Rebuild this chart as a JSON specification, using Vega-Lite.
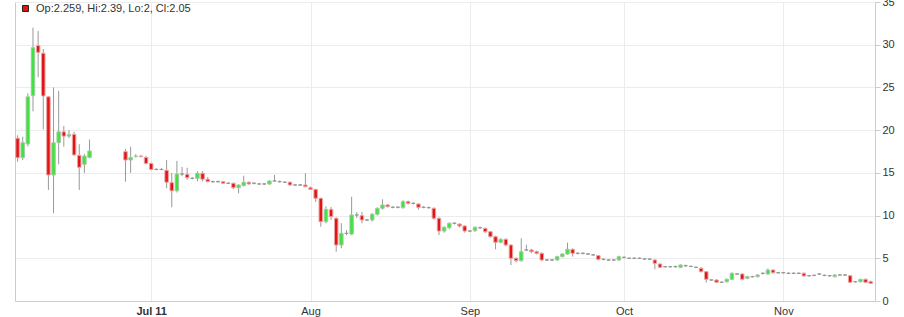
{
  "$schema": "https://vega.github.io/schema/vega-lite/v6.json",
  "width": 860,
  "height": 299,
  "autosize": {"type": "none"},
  "padding": {"left": 15, "top": 2, "right": 29, "bottom": 16},
  "background": "white",
  "config": {
    "view": {"stroke": null},
    "font": "Liberation Sans",
    "axis": {"labelFont": "Liberation Sans", "labelFontSize": 11, "labelColor": "#333", "gridColor": "#ececec", "domainColor": "#ccc", "tickColor": "#ccc"}
  },
  "data": {"values": [
    {"d":"2011-06-05","o":19.05,"h":19.4,"l":16.3,"c":16.77},
    {"d":"2011-06-06","o":16.77,"h":19.23,"l":16.5,"c":18.53},
    {"d":"2011-06-07","o":18.38,"h":24.3,"l":18.1,"c":23.9},
    {"d":"2011-06-08","o":24.03,"h":32.0,"l":22.2,"c":29.65},
    {"d":"2011-06-09","o":29.9,"h":31.6,"l":26.2,"c":29.1},
    {"d":"2011-06-10","o":29.0,"h":29.5,"l":20.1,"c":24.0},
    {"d":"2011-06-11","o":23.9,"h":24.0,"l":13.0,"c":14.75},
    {"d":"2011-06-12","o":14.75,"h":25.0,"l":10.27,"c":18.53},
    {"d":"2011-06-13","o":18.53,"h":24.6,"l":16.0,"c":19.8},
    {"d":"2011-06-14","o":19.8,"h":20.5,"l":18.06,"c":19.3},
    {"d":"2011-06-15","o":19.3,"h":20.0,"l":19.05,"c":19.5},
    {"d":"2011-06-16","o":19.5,"h":19.8,"l":17.0,"c":17.1},
    {"d":"2011-06-17","o":17.05,"h":18.35,"l":13.0,"c":15.65},
    {"d":"2011-06-18","o":16.0,"h":17.2,"l":15.0,"c":16.97},
    {"d":"2011-06-19","o":16.8,"h":18.9,"l":16.7,"c":17.56},
    {"d":"2011-06-26","o":17.48,"h":17.8,"l":13.97,"c":16.5},
    {"d":"2011-06-27","o":16.5,"h":18.06,"l":15.0,"c":16.8},
    {"d":"2011-06-28","o":16.9,"h":17.2,"l":16.8,"c":16.97},
    {"d":"2011-06-29","o":16.97,"h":17.1,"l":16.8,"c":16.9},
    {"d":"2011-06-30","o":16.8,"h":17.0,"l":16.0,"c":16.1},
    {"d":"2011-07-01","o":16.1,"h":16.2,"l":15.3,"c":15.4},
    {"d":"2011-07-02","o":15.4,"h":15.55,"l":15.3,"c":15.4},
    {"d":"2011-07-03","o":15.4,"h":15.55,"l":15.3,"c":15.4},
    {"d":"2011-07-04","o":15.3,"h":16.5,"l":13.2,"c":13.9},
    {"d":"2011-07-05","o":13.85,"h":15.0,"l":10.97,"c":12.9},
    {"d":"2011-07-06","o":12.9,"h":16.4,"l":12.7,"c":14.87},
    {"d":"2011-07-07","o":14.87,"h":15.7,"l":14.6,"c":14.87},
    {"d":"2011-07-08","o":14.83,"h":15.6,"l":14.2,"c":14.43},
    {"d":"2011-07-09","o":14.36,"h":14.5,"l":14.25,"c":14.36},
    {"d":"2011-07-10","o":14.36,"h":15.2,"l":14.0,"c":14.95},
    {"d":"2011-07-11","o":14.95,"h":15.2,"l":14.0,"c":14.25},
    {"d":"2011-07-12","o":14.25,"h":14.5,"l":13.9,"c":13.97},
    {"d":"2011-07-13","o":13.97,"h":14.1,"l":13.85,"c":13.97},
    {"d":"2011-07-14","o":13.97,"h":14.1,"l":13.85,"c":13.97},
    {"d":"2011-07-15","o":13.97,"h":14.05,"l":13.7,"c":13.78},
    {"d":"2011-07-16","o":13.78,"h":13.9,"l":13.7,"c":13.78},
    {"d":"2011-07-17","o":13.78,"h":13.85,"l":13.1,"c":13.26},
    {"d":"2011-07-18","o":13.26,"h":13.65,"l":12.6,"c":13.58},
    {"d":"2011-07-19","o":13.5,"h":14.67,"l":13.4,"c":13.9},
    {"d":"2011-07-20","o":13.9,"h":14.0,"l":13.6,"c":13.7},
    {"d":"2011-07-21","o":13.78,"h":13.9,"l":13.65,"c":13.78},
    {"d":"2011-07-22","o":13.7,"h":13.8,"l":13.6,"c":13.7},
    {"d":"2011-07-23","o":13.7,"h":13.8,"l":13.6,"c":13.7},
    {"d":"2011-07-24","o":13.7,"h":14.1,"l":13.6,"c":14.05},
    {"d":"2011-07-25","o":14.05,"h":14.75,"l":13.95,"c":14.05},
    {"d":"2011-07-26","o":13.97,"h":14.1,"l":13.85,"c":13.97},
    {"d":"2011-07-27","o":13.9,"h":14.0,"l":13.8,"c":13.9},
    {"d":"2011-07-28","o":13.9,"h":14.0,"l":13.5,"c":13.58},
    {"d":"2011-07-29","o":13.58,"h":13.7,"l":13.5,"c":13.58},
    {"d":"2011-07-30","o":13.58,"h":13.7,"l":13.5,"c":13.58},
    {"d":"2011-07-31","o":13.58,"h":14.95,"l":13.3,"c":13.38},
    {"d":"2011-08-01","o":13.26,"h":13.4,"l":13.0,"c":13.07},
    {"d":"2011-08-02","o":13.07,"h":13.1,"l":11.6,"c":12.02},
    {"d":"2011-08-03","o":12.02,"h":12.1,"l":8.7,"c":9.28},
    {"d":"2011-08-04","o":9.28,"h":11.1,"l":9.1,"c":10.73},
    {"d":"2011-08-05","o":10.73,"h":11.0,"l":9.5,"c":9.87},
    {"d":"2011-08-06","o":9.68,"h":9.8,"l":5.77,"c":6.55},
    {"d":"2011-08-07","o":6.55,"h":9.1,"l":6.17,"c":7.92},
    {"d":"2011-08-08","o":7.92,"h":8.3,"l":7.7,"c":7.92},
    {"d":"2011-08-09","o":7.84,"h":12.2,"l":7.7,"c":10.07},
    {"d":"2011-08-10","o":10.07,"h":10.4,"l":9.7,"c":10.07},
    {"d":"2011-08-11","o":9.99,"h":10.4,"l":9.1,"c":9.48},
    {"d":"2011-08-12","o":9.48,"h":9.6,"l":9.35,"c":9.48},
    {"d":"2011-08-13","o":9.48,"h":10.3,"l":9.3,"c":10.15},
    {"d":"2011-08-14","o":10.15,"h":10.95,"l":10.0,"c":10.85},
    {"d":"2011-08-15","o":10.85,"h":11.9,"l":10.7,"c":11.24},
    {"d":"2011-08-16","o":11.24,"h":11.35,"l":10.95,"c":11.04},
    {"d":"2011-08-17","o":10.97,"h":11.1,"l":10.85,"c":10.97},
    {"d":"2011-08-18","o":10.97,"h":11.1,"l":10.85,"c":10.97},
    {"d":"2011-08-19","o":10.93,"h":11.8,"l":10.8,"c":11.63},
    {"d":"2011-08-20","o":11.63,"h":11.75,"l":11.3,"c":11.43},
    {"d":"2011-08-21","o":11.43,"h":11.55,"l":11.3,"c":11.43},
    {"d":"2011-08-22","o":11.35,"h":11.45,"l":10.7,"c":10.97},
    {"d":"2011-08-23","o":10.97,"h":11.1,"l":10.85,"c":10.97},
    {"d":"2011-08-24","o":10.93,"h":11.05,"l":10.8,"c":10.93},
    {"d":"2011-08-25","o":10.85,"h":10.95,"l":9.5,"c":9.68},
    {"d":"2011-08-26","o":9.68,"h":9.8,"l":7.73,"c":8.19},
    {"d":"2011-08-27","o":8.19,"h":8.75,"l":8.0,"c":8.63},
    {"d":"2011-08-28","o":8.58,"h":9.2,"l":8.4,"c":9.1},
    {"d":"2011-08-29","o":9.1,"h":9.2,"l":8.95,"c":9.1},
    {"d":"2011-08-30","o":9.0,"h":9.1,"l":8.6,"c":8.78},
    {"d":"2011-08-31","o":8.78,"h":8.85,"l":8.0,"c":8.19},
    {"d":"2011-09-01","o":8.19,"h":8.3,"l":8.05,"c":8.19},
    {"d":"2011-09-02","o":8.23,"h":8.75,"l":8.1,"c":8.63},
    {"d":"2011-09-03","o":8.58,"h":8.7,"l":8.45,"c":8.58},
    {"d":"2011-09-04","o":8.5,"h":8.6,"l":7.95,"c":8.11},
    {"d":"2011-09-05","o":8.11,"h":8.2,"l":7.4,"c":7.53},
    {"d":"2011-09-06","o":7.53,"h":7.65,"l":6.05,"c":6.87},
    {"d":"2011-09-07","o":6.87,"h":7.35,"l":6.75,"c":7.22},
    {"d":"2011-09-08","o":7.22,"h":7.35,"l":6.4,"c":6.55},
    {"d":"2011-09-09","o":6.55,"h":6.65,"l":4.21,"c":5.0},
    {"d":"2011-09-10","o":5.0,"h":5.1,"l":4.5,"c":4.72},
    {"d":"2011-09-11","o":4.72,"h":7.34,"l":4.6,"c":5.77},
    {"d":"2011-09-12","o":5.97,"h":6.6,"l":5.85,"c":5.97},
    {"d":"2011-09-13","o":5.97,"h":6.1,"l":5.6,"c":5.77},
    {"d":"2011-09-14","o":5.77,"h":5.9,"l":5.45,"c":5.58},
    {"d":"2011-09-15","o":5.58,"h":5.7,"l":4.65,"c":4.8},
    {"d":"2011-09-16","o":4.8,"h":4.9,"l":4.7,"c":4.8},
    {"d":"2011-09-17","o":4.8,"h":4.9,"l":4.7,"c":4.8},
    {"d":"2011-09-18","o":4.8,"h":5.3,"l":4.7,"c":5.19},
    {"d":"2011-09-19","o":5.19,"h":5.6,"l":5.1,"c":5.5},
    {"d":"2011-09-20","o":5.5,"h":6.83,"l":5.4,"c":6.05},
    {"d":"2011-09-21","o":6.05,"h":6.15,"l":5.2,"c":5.58},
    {"d":"2011-09-22","o":5.58,"h":5.7,"l":5.45,"c":5.58},
    {"d":"2011-09-23","o":5.58,"h":5.7,"l":5.45,"c":5.58},
    {"d":"2011-09-24","o":5.5,"h":5.6,"l":5.4,"c":5.5},
    {"d":"2011-09-25","o":5.4,"h":5.5,"l":5.3,"c":5.4},
    {"d":"2011-09-26","o":5.31,"h":5.4,"l":4.75,"c":4.88},
    {"d":"2011-09-27","o":4.88,"h":5.0,"l":4.75,"c":4.88},
    {"d":"2011-09-28","o":4.8,"h":4.9,"l":4.7,"c":4.8},
    {"d":"2011-09-29","o":4.8,"h":4.9,"l":4.7,"c":4.8},
    {"d":"2011-09-30","o":4.8,"h":5.3,"l":4.7,"c":5.19},
    {"d":"2011-10-01","o":5.11,"h":5.2,"l":5.0,"c":5.11},
    {"d":"2011-10-02","o":5.0,"h":5.1,"l":4.9,"c":5.0},
    {"d":"2011-10-03","o":5.0,"h":5.1,"l":4.9,"c":5.0},
    {"d":"2011-10-04","o":5.0,"h":5.1,"l":4.9,"c":5.0},
    {"d":"2011-10-05","o":4.92,"h":5.0,"l":4.85,"c":4.92},
    {"d":"2011-10-06","o":4.9,"h":5.0,"l":4.8,"c":4.9},
    {"d":"2011-10-07","o":4.8,"h":4.9,"l":3.71,"c":4.41},
    {"d":"2011-10-08","o":4.33,"h":4.4,"l":3.85,"c":3.94},
    {"d":"2011-10-09","o":4.02,"h":4.1,"l":3.9,"c":4.02},
    {"d":"2011-10-10","o":4.02,"h":4.1,"l":3.9,"c":4.02},
    {"d":"2011-10-11","o":4.02,"h":4.15,"l":3.9,"c":4.02},
    {"d":"2011-10-12","o":3.94,"h":4.3,"l":3.85,"c":4.21},
    {"d":"2011-10-13","o":4.13,"h":4.25,"l":4.0,"c":4.13},
    {"d":"2011-10-14","o":4.05,"h":4.15,"l":3.95,"c":4.05},
    {"d":"2011-10-15","o":3.94,"h":4.05,"l":3.85,"c":3.94},
    {"d":"2011-10-16","o":3.83,"h":3.95,"l":3.35,"c":3.43},
    {"d":"2011-10-17","o":3.43,"h":3.5,"l":2.15,"c":2.54},
    {"d":"2011-10-18","o":2.46,"h":2.55,"l":2.35,"c":2.46},
    {"d":"2011-10-19","o":2.46,"h":2.55,"l":2.1,"c":2.19},
    {"d":"2011-10-20","o":2.19,"h":2.3,"l":2.1,"c":2.19},
    {"d":"2011-10-21","o":2.26,"h":2.65,"l":2.15,"c":2.54},
    {"d":"2011-10-22","o":2.54,"h":3.35,"l":2.45,"c":3.24},
    {"d":"2011-10-23","o":3.16,"h":3.25,"l":3.05,"c":3.16},
    {"d":"2011-10-24","o":3.16,"h":3.25,"l":2.4,"c":2.54},
    {"d":"2011-10-25","o":2.66,"h":2.95,"l":2.55,"c":2.85},
    {"d":"2011-10-26","o":2.85,"h":2.95,"l":2.75,"c":2.85},
    {"d":"2011-10-27","o":2.85,"h":3.15,"l":2.75,"c":3.04},
    {"d":"2011-10-28","o":3.24,"h":3.35,"l":3.1,"c":3.24},
    {"d":"2011-10-29","o":3.16,"h":3.8,"l":3.05,"c":3.63},
    {"d":"2011-10-30","o":3.63,"h":3.7,"l":3.2,"c":3.31},
    {"d":"2011-10-31","o":3.31,"h":3.4,"l":3.2,"c":3.31},
    {"d":"2011-11-01","o":3.31,"h":3.4,"l":3.2,"c":3.31},
    {"d":"2011-11-02","o":3.24,"h":3.35,"l":3.15,"c":3.24},
    {"d":"2011-11-03","o":3.24,"h":3.35,"l":3.15,"c":3.24},
    {"d":"2011-11-04","o":3.24,"h":3.35,"l":3.15,"c":3.24},
    {"d":"2011-11-05","o":3.24,"h":3.35,"l":2.85,"c":2.93},
    {"d":"2011-11-06","o":2.96,"h":3.05,"l":2.85,"c":2.96},
    {"d":"2011-11-07","o":3.0,"h":3.1,"l":2.9,"c":3.0},
    {"d":"2011-11-08","o":3.16,"h":3.25,"l":3.05,"c":3.16},
    {"d":"2011-11-09","o":3.0,"h":3.1,"l":2.9,"c":3.0},
    {"d":"2011-11-10","o":2.96,"h":3.05,"l":2.85,"c":2.96},
    {"d":"2011-11-11","o":2.85,"h":3.15,"l":2.75,"c":3.04},
    {"d":"2011-11-12","o":3.04,"h":3.15,"l":2.95,"c":3.04},
    {"d":"2011-11-13","o":3.04,"h":3.15,"l":2.95,"c":3.04},
    {"d":"2011-11-14","o":2.96,"h":3.05,"l":2.1,"c":2.19},
    {"d":"2011-11-15","o":2.26,"h":2.35,"l":2.15,"c":2.26},
    {"d":"2011-11-16","o":2.26,"h":2.6,"l":2.15,"c":2.54},
    {"d":"2011-11-17","o":2.54,"h":2.65,"l":2.1,"c":2.19},
    {"d":"2011-11-18","o":2.259,"h":2.39,"l":2.0,"c":2.05}
  ]},
  "layer": [
    {
      "mark": {"type": "rule", "color": "#999", "strokeWidth": 1},
      "encoding": {
        "x": {
          "field": "d", "type": "temporal", "title": null,
          "scale": {"type": "utc", "padding": 0, "nice": false, "domain": [
            {"year": 2011, "month": 6, "date": 4, "hours": 12, "utc": true},
            {"year": 2011, "month": 11, "date": 18, "hours": 20, "utc": true}
          ]},
          "axis": {
            "values": [
              {"year": 2011, "month": 7, "date": 1, "utc": true},
              {"year": 2011, "month": 8, "date": 1, "utc": true},
              {"year": 2011, "month": 9, "date": 1, "utc": true},
              {"year": 2011, "month": 10, "date": 1, "utc": true},
              {"year": 2011, "month": 11, "date": 1, "utc": true}
            ],
            "labelExpr": "utcmonth(datum.value) == 6 ? 'Jul 11' : utcFormat(datum.value, '%b')",
            "labelFontWeight": {"condition": {"test": "utcmonth(datum.value) == 6", "value": "bold"}, "value": "normal"},
            "ticks": false, "labelPadding": 4, "grid": true, "domainColor": "#ccc"
          }
        },
        "y": {"field": "l", "type": "quantitative", "scale": {"domain": [0, 35], "nice": false, "zero": false},
              "axis": {"orient": "left", "labels": false, "ticks": false, "grid": false, "title": null, "domainColor": "#ccc"}},
        "y2": {"field": "h"}
      }
    },
    {
      "mark": {"type": "bar", "width": 3.5, "strokeWidth": 1},
      "encoding": {
        "x": {"field": "d", "type": "temporal"},
        "y": {"field": "o", "type": "quantitative",
              "axis": {"orient": "right", "values": [0, 5, 10, 15, 20, 25, 30, 35], "title": null, "grid": true, "tickSize": 5, "labelPadding": 2, "domainColor": "#ccc"}},
        "y2": {"field": "c"},
        "fill": {"condition": {"test": "datum.c < datum.o", "value": "#e21414"}, "value": "#3de43d"},
        "stroke": {"condition": [
          {"test": "datum.c == datum.o", "value": "#999"},
          {"test": "datum.c < datum.o", "value": "#eba4a4"}
        ], "value": "#a8c8a8"}
      }
    },
    {
      "data": {"values": [{"label": "Op:2.259, Hi:2.39, Lo:2, Cl:2.05"}]},
      "mark": {"type": "square", "size": 0, "filled": true},
      "encoding": {
        "color": {"field": "label", "type": "nominal",
          "scale": {"domain": ["Op:2.259, Hi:2.39, Lo:2, Cl:2.05"], "range": ["#e21414"]},
          "legend": {"orient": "none", "legendX": 5, "legendY": 1, "title": null, "symbolType": "square", "symbolSize": 36,
                     "symbolOpacity": 1, "symbolFillColor": "#e21414", "symbolStrokeColor": "#222", "symbolStrokeWidth": 1, "labelFont": "Liberation Sans",
                     "labelFontSize": 11, "labelColor": "#333", "labelOffset": 5, "labelLimit": 0, "padding": 0}}
      }
    }
  ],
  "resolve": {"axis": {"y": "independent"}}
}
